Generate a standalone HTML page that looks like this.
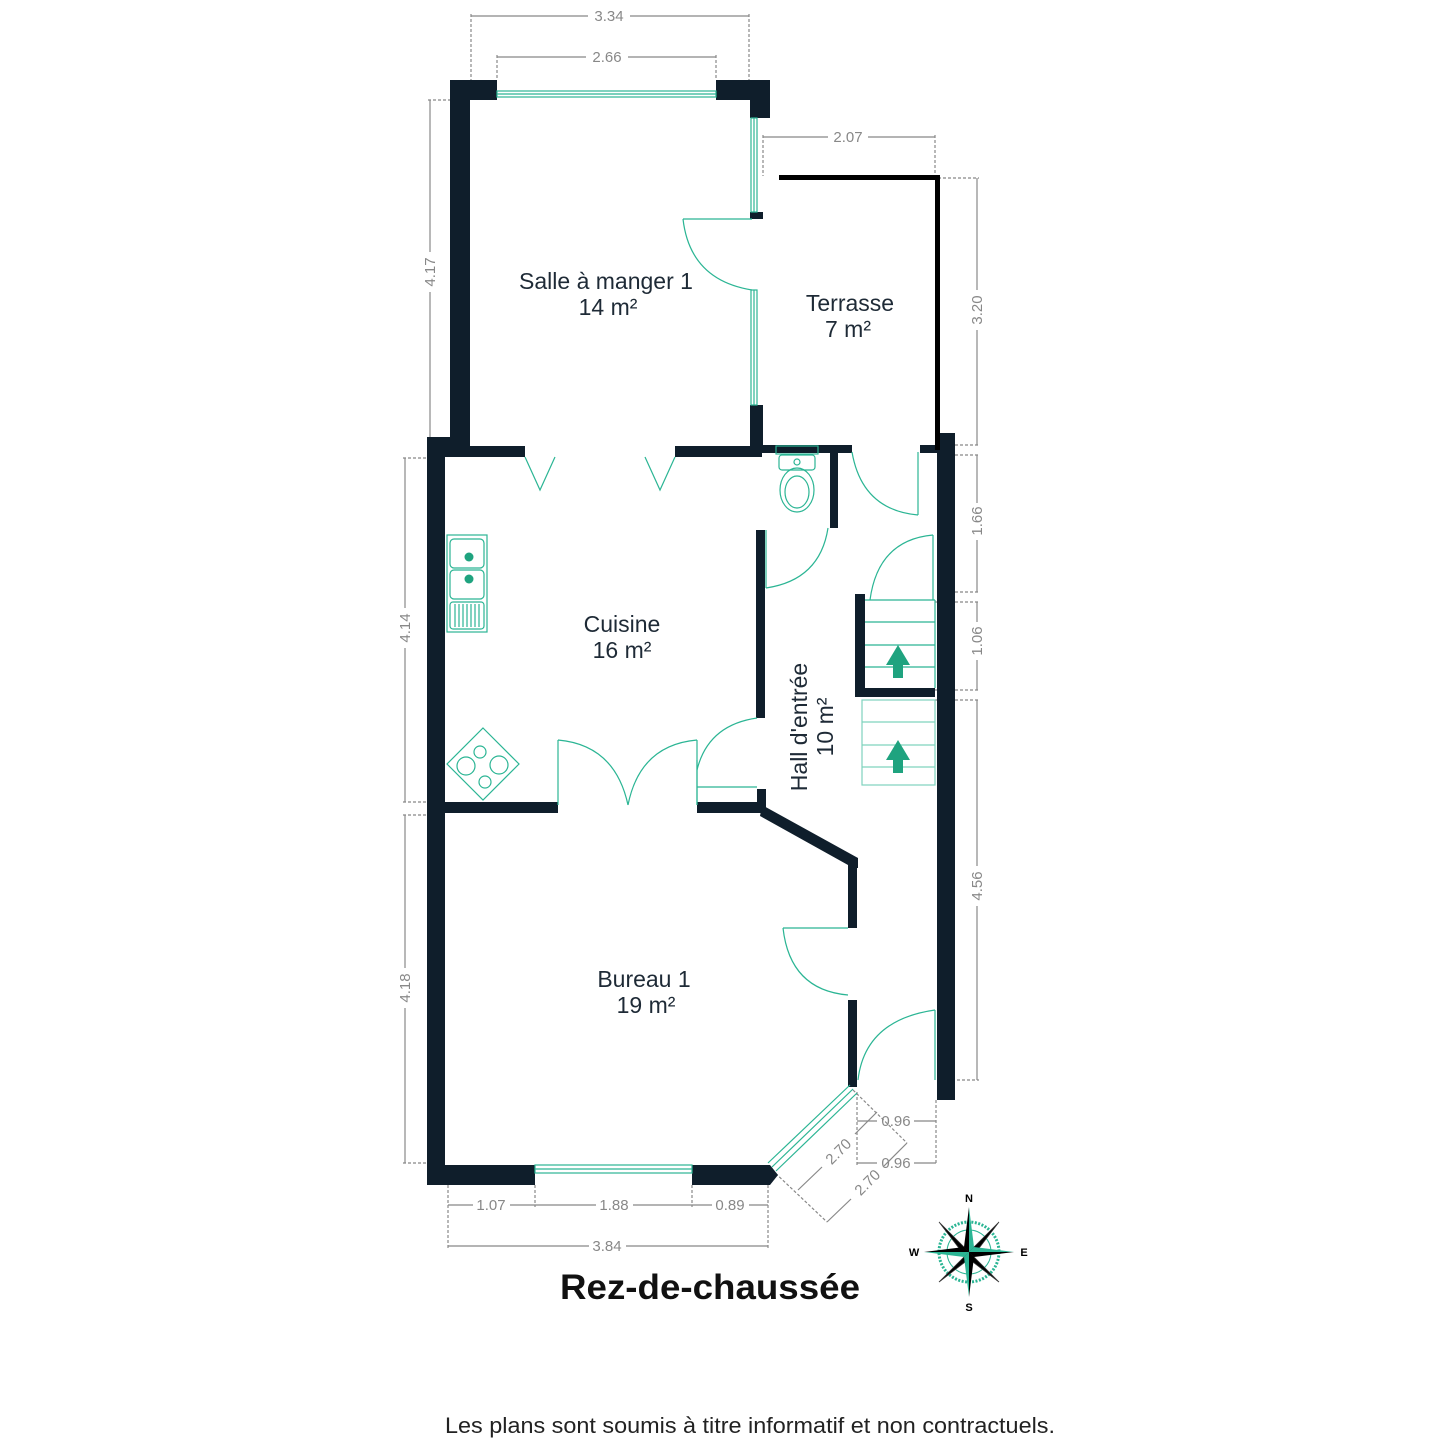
<!DOCTYPE html>
<html><head><meta charset="utf-8"><style>
html,body{margin:0;padding:0;background:#fff;}
svg{display:block;}
text{font-family:"Liberation Sans",sans-serif;}
</style></head><body>
<svg width="1440" height="1440" viewBox="0 0 1440 1440" xmlns="http://www.w3.org/2000/svg">
<rect width="1440" height="1440" fill="#fff"/>
<g stroke="#888" stroke-width="1.2" fill="none">
  <g stroke-dasharray="3,2">
    <line x1="471" y1="14" x2="471" y2="80"/><line x1="749" y1="14" x2="749" y2="80"/>
    <line x1="497" y1="55" x2="497" y2="80"/><line x1="716" y1="55" x2="716" y2="80"/>
    <line x1="763" y1="135" x2="763" y2="176"/><line x1="935" y1="135" x2="935" y2="176"/>
    <line x1="428" y1="100" x2="470" y2="100"/><line x1="428" y1="445" x2="450" y2="445"/>
    <line x1="938" y1="178" x2="979" y2="178"/><line x1="940" y1="445" x2="979" y2="445"/>
    <line x1="955" y1="455" x2="979" y2="455"/><line x1="955" y1="592" x2="979" y2="592"/>
    <line x1="935" y1="602" x2="979" y2="602"/><line x1="935" y1="690" x2="979" y2="690"/>
    <line x1="935" y1="700" x2="979" y2="700"/><line x1="937" y1="1080" x2="979" y2="1080"/>
    <line x1="403" y1="458" x2="427" y2="458"/><line x1="403" y1="802" x2="427" y2="802"/>
    <line x1="403" y1="815" x2="427" y2="815"/><line x1="403" y1="1163" x2="427" y2="1163"/>
    <line x1="448" y1="1185" x2="448" y2="1248"/><line x1="535" y1="1185" x2="535" y2="1207"/>
    <line x1="692" y1="1185" x2="692" y2="1207"/><line x1="768" y1="1185" x2="768" y2="1248"/>
    <line x1="857" y1="1092" x2="857" y2="1165"/><line x1="936" y1="1100" x2="936" y2="1165"/>
    <line x1="772" y1="1170" x2="827" y2="1222"/><line x1="853" y1="1090" x2="907" y2="1143"/>
  </g>
  <line x1="471" y1="16" x2="588" y2="16"/><line x1="630" y1="16" x2="749" y2="16"/>
  <line x1="497" y1="57" x2="586" y2="57"/><line x1="628" y1="57" x2="716" y2="57"/>
  <line x1="763" y1="137" x2="828" y2="137"/><line x1="868" y1="137" x2="935" y2="137"/>
  <line x1="430" y1="100" x2="430" y2="252"/><line x1="430" y1="292" x2="430" y2="445"/>
  <line x1="977" y1="178" x2="977" y2="290"/><line x1="977" y1="330" x2="977" y2="445"/>
  <line x1="977" y1="455" x2="977" y2="503"/><line x1="977" y1="540" x2="977" y2="592"/>
  <line x1="977" y1="602" x2="977" y2="622"/><line x1="977" y1="660" x2="977" y2="690"/>
  <line x1="977" y1="700" x2="977" y2="866"/><line x1="977" y1="906" x2="977" y2="1080"/>
  <line x1="405" y1="458" x2="405" y2="608"/><line x1="405" y1="648" x2="405" y2="802"/>
  <line x1="405" y1="815" x2="405" y2="968"/><line x1="405" y1="1008" x2="405" y2="1163"/>
  <line x1="448" y1="1205" x2="473" y2="1205"/><line x1="510" y1="1205" x2="535" y2="1205"/>
  <line x1="535" y1="1205" x2="596" y2="1205"/><line x1="633" y1="1205" x2="692" y2="1205"/>
  <line x1="692" y1="1205" x2="712" y2="1205"/><line x1="749" y1="1205" x2="768" y2="1205"/>
  <line x1="448" y1="1246" x2="589" y2="1246"/><line x1="626" y1="1246" x2="768" y2="1246"/>
  <line x1="857" y1="1121" x2="877" y2="1121"/><line x1="914" y1="1121" x2="936" y2="1121"/>
  <line x1="857" y1="1163" x2="877" y2="1163"/><line x1="914" y1="1163" x2="936" y2="1163"/>
  <line x1="798" y1="1190" x2="822" y2="1167"/><line x1="855" y1="1134" x2="877" y2="1112"/>
  <line x1="827" y1="1222" x2="851" y2="1199"/><line x1="884" y1="1166" x2="907" y2="1143"/>
</g>
<g fill="#888" font-size="15" text-anchor="middle">
  <text x="609" y="21">3.34</text>
  <text x="607" y="62">2.66</text>
  <text x="848" y="142">2.07</text>
  <text transform="translate(435,272) rotate(-90)">4.17</text>
  <text transform="translate(982,310) rotate(-90)">3.20</text>
  <text transform="translate(982,521) rotate(-90)">1.66</text>
  <text transform="translate(982,641) rotate(-90)">1.06</text>
  <text transform="translate(982,886) rotate(-90)">4.56</text>
  <text transform="translate(410,628) rotate(-90)">4.14</text>
  <text transform="translate(410,988) rotate(-90)">4.18</text>
  <text x="491" y="1210">1.07</text>
  <text x="614" y="1210">1.88</text>
  <text x="730" y="1210">0.89</text>
  <text x="607" y="1251">3.84</text>
  <text x="896" y="1126">0.96</text>
  <text x="896" y="1168">0.96</text>
  <text transform="translate(842,1155) rotate(-45)">2.70</text>
  <text transform="translate(871,1186) rotate(-45)">2.70</text>
</g>
<g fill="#0f1e2b">
  <rect x="450" y="80" width="20" height="370"/>
  <rect x="450" y="80" width="47" height="20"/>
  <rect x="716" y="80" width="54" height="20"/>
  <rect x="750" y="80" width="20" height="38"/>
  <rect x="750" y="212" width="13" height="7"/>
  <rect x="750" y="405" width="13" height="47"/>
  <rect x="427" y="437" width="43" height="20"/>
  <rect x="427" y="437" width="18" height="748"/>
  <rect x="427" y="446" width="98" height="11"/>
  <rect x="675" y="446" width="87" height="11"/>
  <rect x="755" y="445" width="97" height="8"/>
  <rect x="830" y="451" width="8" height="77"/>
  <rect x="920" y="445" width="20" height="8"/>
  <rect x="937" y="433" width="18" height="667"/>
  <rect x="756" y="530" width="9" height="188"/>
  <rect x="427" y="802" width="131" height="11"/>
  <rect x="697" y="802" width="68" height="11"/>
  <rect x="757" y="789" width="9" height="24"/>
  <polygon points="762,805 858,858 858,868 848,868 848,865 760,816"/>
  <rect x="848" y="860" width="9" height="68"/>
  <rect x="848" y="1000" width="9" height="87"/>
  <rect x="427" y="1165" width="108" height="20"/>
  <polygon points="692,1165 770,1165 778,1175 770,1185 692,1185"/>
  <rect x="855" y="594" width="10" height="103"/>
  <rect x="855" y="688" width="80" height="9"/>
</g>
<g fill="#000">
  <rect x="779" y="175" width="160" height="5"/>
  <rect x="935" y="175" width="5" height="275"/>
</g>
<g fill="none" stroke="#2bb594" stroke-width="1.2">
  <rect x="497" y="91" width="219" height="6"/>
  <line x1="497" y1="94" x2="716" y2="94"/>
  <rect x="751" y="118" width="6" height="94"/>
  <line x1="754" y1="118" x2="754" y2="212"/>
  <rect x="751" y="290" width="6" height="115"/>
  <line x1="754" y1="290" x2="754" y2="405"/>
  <rect x="535" y="1165" width="157" height="8"/>
  <line x1="535" y1="1169" x2="692" y2="1169"/>
  <line x1="768" y1="1163" x2="850" y2="1085"/>
  <line x1="772" y1="1167" x2="853" y2="1089"/>
  <line x1="776" y1="1171" x2="857" y2="1093"/>
</g>
<g fill="none" stroke="#2bb594" stroke-width="1.2">
  <line x1="752" y1="219" x2="683" y2="219"/>
  <path d="M683,219 Q690,280 752,290"/>
  <polyline points="525,457 540,490 555,457"/>
  <polyline points="645,457 660,490 675,457"/>
  <line x1="766" y1="530" x2="766" y2="588"/>
  <path d="M766,588 Q820,580 828,528"/>
  <line x1="918" y1="452" x2="918" y2="515"/>
  <path d="M918,515 Q862,510 852,452"/>
  <line x1="933" y1="535" x2="933" y2="600"/>
  <path d="M933,535 Q878,540 870,600"/>
  <line x1="697" y1="787" x2="757" y2="787"/>
  <line x1="697" y1="760" x2="697" y2="805"/>
  <path d="M697,770 Q708,725 757,718"/>
  <line x1="558" y1="740" x2="558" y2="805"/>
  <path d="M558,740 Q615,745 628,805"/>
  <line x1="697" y1="740" x2="697" y2="805"/>
  <path d="M697,740 Q640,745 628,805"/>
  <line x1="783" y1="928" x2="848" y2="928"/>
  <path d="M783,928 Q790,990 848,995"/>
  <line x1="935" y1="1010" x2="935" y2="1080"/>
  <path d="M935,1010 Q865,1020 858,1080"/>
</g>
<g stroke="#2bb594" stroke-width="1.2" fill="none">
  <line x1="865" y1="600" x2="935" y2="600"/><line x1="865" y1="622" x2="935" y2="622"/>
  <line x1="865" y1="645" x2="935" y2="645"/><line x1="865" y1="667" x2="935" y2="667"/>
  <line x1="935" y1="600" x2="935" y2="688"/>
</g>
<g stroke="#7fd3bd" stroke-width="1.2" fill="none">
  <rect x="862" y="700" width="73" height="85"/>
  <line x1="862" y1="722" x2="935" y2="722"/><line x1="862" y1="745" x2="935" y2="745"/>
  <line x1="862" y1="767" x2="935" y2="767"/>
</g>
<g fill="#1fa37f">
  <polygon points="898,645 886,665 893,665 893,678 903,678 903,665 910,665"/>
  <polygon points="898,740 886,760 893,760 893,773 903,773 903,760 910,760"/>
</g>
<g fill="none" stroke="#2bb594" stroke-width="1.2">
  <rect x="776" y="446" width="42" height="8"/>
  <rect x="779" y="455" width="36" height="15" rx="3"/>
  <ellipse cx="797" cy="490" rx="17" ry="22"/>
  <ellipse cx="797" cy="492" rx="12" ry="16"/>
  <circle cx="797" cy="462" r="3"/>
</g>
<g fill="none" stroke="#2bb594" stroke-width="1.2">
  <rect x="447" y="535" width="40" height="97"/>
  <rect x="450" y="539" width="34" height="29" rx="4"/>
  <rect x="450" y="570" width="34" height="29" rx="4"/>
  <rect x="450" y="602" width="34" height="27" rx="3"/>
  <line x1="455" y1="604" x2="455" y2="627"/><line x1="459" y1="604" x2="459" y2="627"/>
  <line x1="463" y1="604" x2="463" y2="627"/><line x1="467" y1="604" x2="467" y2="627"/>
  <line x1="471" y1="604" x2="471" y2="627"/><line x1="475" y1="604" x2="475" y2="627"/>
  <line x1="479" y1="604" x2="479" y2="627"/>
</g>
<circle cx="469" cy="557" r="4.5" fill="#1fa37f"/>
<circle cx="469" cy="579" r="4.5" fill="#1fa37f"/>
<g fill="none" stroke="#2bb594" stroke-width="1.2">
  <polygon points="483,728 519,764 483,800 447,764"/>
  <circle cx="466" cy="766" r="9"/><circle cx="480" cy="752" r="6"/>
  <circle cx="499" cy="765" r="9"/><circle cx="485" cy="782" r="6"/>
</g>
<g fill="#1e2a36" font-size="23" text-anchor="middle">
  <text x="606" y="289">Salle à manger 1</text><text x="608" y="315">14 m²</text>
  <text x="850" y="311">Terrasse</text><text x="848" y="337">7 m²</text>
  <text x="622" y="632">Cuisine</text><text x="622" y="658">16 m²</text>
  <text transform="translate(807,727) rotate(-90)">Hall d'entrée</text>
  <text transform="translate(833,727) rotate(-90)">10 m²</text>
  <text x="644" y="987">Bureau 1</text><text x="646" y="1013">19 m²</text>
</g>
<text x="560" y="1299" font-size="35" font-weight="bold" fill="#111" textLength="300" lengthAdjust="spacingAndGlyphs">Rez-de-chaussée</text>
<text x="445" y="1433" font-size="22" fill="#222" textLength="610" lengthAdjust="spacingAndGlyphs">Les plans sont soumis à titre informatif et non contractuels.</text>
<g transform="translate(969,1252)">
  <circle r="30" fill="none" stroke="#2bb594" stroke-width="3" stroke-dasharray="2,1.5"/>
  <circle r="22" fill="none" stroke="#2bb594" stroke-width="1"/>
  <g stroke="#333" stroke-width="0.8">
    <polygon points="0,0 -4,-4 -30,-30 -4,4" fill="#000"/>
    <polygon points="0,0 4,-4 30,-30 4,4" fill="#000"/>
    <polygon points="0,0 -4,4 -30,30 4,4" fill="#000"/>
    <polygon points="0,0 4,4 30,30 -4,4" fill="#000"/>
  </g>
  <polygon points="0,-45 5,-5 0,0" fill="#2bb594"/><polygon points="0,-45 -5,-5 0,0" fill="#000"/>
  <polygon points="0,45 5,5 0,0" fill="#000"/><polygon points="0,45 -5,5 0,0" fill="#2bb594"/>
  <polygon points="-45,0 -5,-5 0,0" fill="#000"/><polygon points="-45,0 -5,5 0,0" fill="#2bb594"/>
  <polygon points="45,0 5,-5 0,0" fill="#2bb594"/><polygon points="45,0 5,5 0,0" fill="#000"/>
  <g font-family="Liberation Serif,serif" font-weight="bold" font-size="11" fill="#000" text-anchor="middle">
    <text x="0" y="-50">N</text><text x="0" y="59">S</text>
    <text x="-55" y="4">W</text><text x="55" y="4">E</text>
  </g>
</g>
</svg>
</body></html>
